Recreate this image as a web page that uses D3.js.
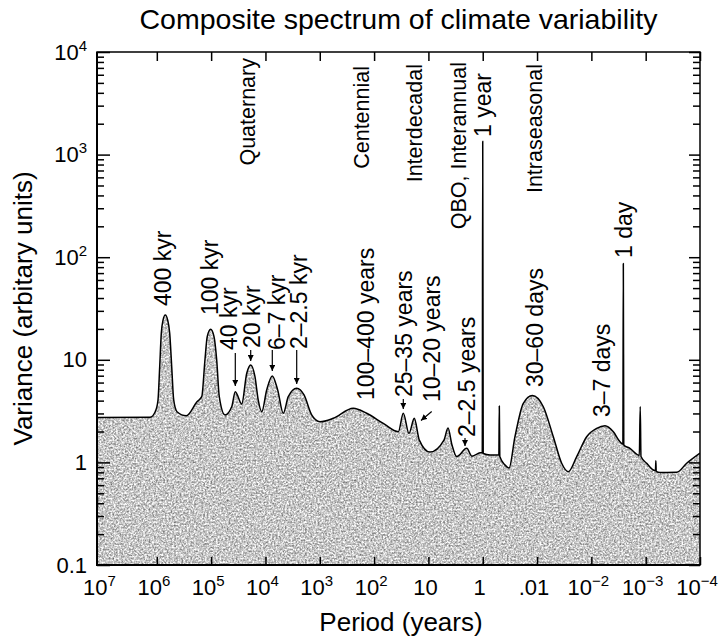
<!DOCTYPE html>
<html>
<head>
<meta charset="utf-8">
<script src="https://cdn.jsdelivr.net/npm/d3@7"></script>
<style>
html, body { margin: 0; padding: 0; background: #fff; }
svg { display: block; font-family: 'Liberation Sans', Arial, Helvetica, sans-serif; }
</style>
</head>
<body>
<svg width="720" height="637"></svg>
<script>
// spectrum: period (years) and variance (arbitrary units)
const period = [1.26e7, 1.34e6, 1.07e6, 9.51e5, 8.85e5, 8.27e5, 7.69e5, 6.98e5, 6.31e5, 5.79e5,
    5.32e5, 4.89e5, 4.25e5, 2.86e5, 1.82e5, 1.49e5, 1.30e5, 1.18e5, 1.02e5, 8.85e4,
    7.90e4, 7.08e4, 5.56e4, 4.18e4, 3.59e4, 2.74e4, 2.21e4, 1.87e4, 1.56e4, 1.36e4,
    1.17e4, 9.49e3, 7.48e3, 5.96e3, 4.70e3, 3.80e3, 2.66e3, 1.95e3, 1.41e3, 991,
    564, 242, 137, 67.8, 35.8, 29.0, 22.8, 18.2, 14.7, 9.35,
    5.17, 4.36, 3.68, 3.01, 1.97, 1.58, 1.12, 1.02, 1.0, 0.98,
    0.734, 0.57, 0.505, 0.495, 0.485, 0.389, 0.328, 0.255, 0.179, 0.122,
    0.0767, 0.0502, 0.0352, 0.0266, 0.0186, 0.0122, 0.00798, 0.00561, 0.00394, 0.00297,
    0.00263, 0.00258, 0.00253, 0.00195, 0.00131, 0.00126, 0.00122, 9.59e-4, 7.24e-4, 6.6e-4,
    6.5e-4, 6.4e-4, 5.46e-4, 2.69e-4, 1.76e-4, 1e-4];
const variance = [2.74, 2.75, 3.12, 4.06, 8.57, 18.1, 24.4, 27.3, 24.4, 18.1,
    8.57, 4.06, 3.12, 2.85, 3.9, 4.37, 9.95, 16.8, 19.8, 16.8,
    9.95, 4.37, 2.90, 3.49, 4.89, 3.71, 7.39, 8.90, 6.84, 4.06,
    3.12, 5.08, 6.95, 5.08, 3.01, 4.37, 5.27, 4.54, 2.90, 2.49,
    2.69, 3.37, 3.01, 2.40, 1.99, 3.01, 1.92, 2.69, 1.65, 1.26,
    1.65, 2.16, 1.48, 1.14, 1.37, 1.15, 1.24, 1.25, 1350, 1.22,
    1.18, 1.18, 1.18, 3.55, 1.14, 0.944, 0.881, 1.78, 3.77, 4.49,
    3.49, 1.78, 0.98, 0.811, 1.14, 1.78, 2.15, 2.28, 1.99, 1.59,
    1.51, 87, 1.48, 1.37, 1.17, 3.5, 1.14, 0.98, 0.843, 0.83,
    1.04, 0.815, 0.798, 0.80, 0.98, 1.23];

const xTickValues = [1e7, 1e6, 1e5, 1e4, 1e3, 1e2, 10, 1, 0.1, 1e-2, 1e-3, 1e-4];
const xTickLabels = ['10^7', '10^6', '10^5', '10^4', '10^3', '10^2', '10', '1', '.01', '10^\u22122', '10^\u22123', '10^\u22124'];
const yTickValues = [0.1, 1, 10, 100, 1000, 10000];
const yTickLabels = ['0.1', '1', '10', '10^2', '10^3', '10^4'];

const peakLabels = ['400 kyr', '100 kyr', '40 kyr', '20 kyr', '6\u20137 kyr', '2\u20132.5 kyr',
    '100\u2013400 years', '25\u201335 years', '10\u201320 years', '2\u20132.5 years',
    '30\u201360 days', '3\u20137 days', '1 day', '1 year'];
const bandLabels = ['Quaternary', 'Centennial', 'Interdecadal', 'QBO, Interannual', 'Intraseasonal'];

// layout
const L = 97, R = 700, T = 52, B = 565;
const peakPos = [[171, 306], [218, 315], [237, 350], [260, 348], [285, 350], [307, 349],
    [374, 400], [412, 397], [440, 402], [475, 437], [543, 387], [610, 417], [632, 258], [491, 137]];
const bandPos = [[255, 58], [369, 66], [422, 64], [466, 62], [542, 64]];
const arrows = [[235.3, 353, 235.3, 386], [250.7, 350, 250.7, 361], [272.3, 350, 272.3, 371],
    [296.7, 350, 296.7, 384], [403.3, 399, 403.3, 409], [431.7, 411.5, 421, 420.5], [465, 438, 465, 446]];

const svg = d3.select('svg');
const x = d3.scaleLog().domain([1e7, 1e-4]).range([102.5, R]);
const y = d3.scaleLog().domain([0.1, 1e4]).range([B, T]);

const defs = svg.append('defs');
const grain = defs.append('filter').attr('id', 'grain')
    .attr('x', 0).attr('y', 0).attr('width', 1).attr('height', 1)
    .attr('color-interpolation-filters', 'sRGB');
grain.append('feTurbulence').attr('type', 'fractalNoise').attr('baseFrequency', 0.55)
    .attr('numOctaves', 3).attr('seed', 5).attr('result', 'noise');
grain.append('feColorMatrix').attr('in', 'noise').attr('type', 'matrix')
    .attr('values', '0.9 0 0 0 0.33  0.9 0 0 0 0.33  0.9 0 0 0 0.33  0 0 0 0 1').attr('result', 'grey');
grain.append('feComposite').attr('in', 'grey').attr('in2', 'SourceGraphic').attr('operator', 'in');

defs.append('marker').attr('id', 'head').attr('viewBox', '0 0 10 10')
    .attr('refX', 10).attr('refY', 5).attr('markerWidth', 6).attr('markerHeight', 6)
    .attr('markerUnits', 'userSpaceOnUse').attr('orient', 'auto')
    .append('path').attr('d', 'M0,0L10,5L0,10Z').attr('fill', '#000');

defs.append('clipPath').attr('id', 'plot').append('rect')
    .attr('x', L).attr('y', T).attr('width', R - L).attr('height', B - T);

const pts = period.map((p, i) => [p, variance[i]]);

const area = d3.area()
    .x(d => x(d[0])).y0(B).y1(d => y(d[1]))
    .curve(d3.curveMonotoneX);
const line = d3.line()
    .x(d => x(d[0])).y(d => y(d[1]))
    .curve(d3.curveMonotoneX);

const plot = svg.append('g').attr('clip-path', 'url(#plot)');
plot.append('path').datum(pts).attr('d', area)
    .attr('fill', '#000').attr('filter', 'url(#grain)');
plot.append('path').datum(pts).attr('d', line)
    .attr('fill', 'none').attr('stroke', '#000').attr('stroke-width', 1.5)
    .attr('stroke-linejoin', 'round');

// axes, ticks pointing inward
const yMinor = [];
yTickValues.slice(0, -1).forEach(v => { for (let k = 2; k <= 9; k++) yMinor.push(v * k); });

function clean(g) { g.select('.domain').remove(); g.selectAll('line').attr('stroke', '#000').attr('stroke-width', 1.5); }
svg.append('g').attr('transform', `translate(0,${B})`)
    .call(d3.axisBottom(x).tickValues(xTickValues.slice(1)).tickSize(-8).tickFormat('')).call(clean);
svg.append('g').attr('transform', `translate(0,${T})`)
    .call(d3.axisTop(x).tickValues(xTickValues.slice(1)).tickSize(-9).tickFormat('')).call(clean);
svg.append('g').attr('transform', `translate(${L},0)`)
    .call(d3.axisLeft(y).tickValues(yTickValues).tickSize(-13).tickFormat('')).call(clean);
svg.append('g').attr('transform', `translate(${L},0)`)
    .call(d3.axisLeft(y).tickValues(yMinor).tickSize(-7).tickFormat('')).call(clean);
svg.append('g').attr('transform', `translate(${R},0)`)
    .call(d3.axisRight(y).tickValues(yTickValues).tickSize(-11).tickFormat('')).call(clean);
svg.append('g').attr('transform', `translate(${R},0)`)
    .call(d3.axisRight(y).tickValues(yMinor).tickSize(-7).tickFormat('')).call(clean);

svg.append('rect').attr('x', L).attr('y', T).attr('width', R - L).attr('height', B - T)
    .attr('fill', 'none').attr('stroke', '#000').attr('stroke-width', 1.5);
svg.append('path').attr('d', `M${L},${T}V${B}H${R}`)
    .attr('fill', 'none').attr('stroke', '#000').attr('stroke-width', 2);

function supText(sel, lab, size) {
    const [base, exp] = lab.split('^');
    sel.append('tspan').text(base);
    if (exp) sel.append('tspan').attr('font-size', Math.round(size * 0.68)).attr('dy', -size * 0.4).text(exp);
}

xTickLabels.forEach((lab, i) => {
    const t = svg.append('text').attr('x', x(xTickValues[i]) - 3).attr('y', 595)
        .attr('text-anchor', 'middle').attr('font-size', 22).attr('fill', '#000');
    supText(t, lab, 22);
});
yTickLabels.forEach((lab, i) => {
    const t = svg.append('text').attr('x', 87).attr('y', y(yTickValues[i]) + 7.5)
        .attr('text-anchor', 'end').attr('font-size', 22).attr('fill', '#000');
    supText(t, lab, 22);
});

svg.append('text').attr('x', (L + R) / 2).attr('y', 29).attr('text-anchor', 'middle')
    .attr('font-size', 28.5).text('Composite spectrum of climate variability');
svg.append('text').attr('x', 401).attr('y', 631).attr('text-anchor', 'middle')
    .attr('font-size', 26).text('Period (years)');
svg.append('text').attr('transform', `translate(32,${(T + B) / 2}) rotate(-90)`)
    .attr('text-anchor', 'middle').attr('font-size', 26).text('Variance (arbitary units)');

peakLabels.forEach((lab, i) => {
    svg.append('text').attr('transform', `translate(${peakPos[i][0]},${peakPos[i][1]}) rotate(-90)`)
        .attr('font-size', 23).text(lab);
});
bandLabels.forEach((lab, i) => {
    svg.append('text').attr('transform', `translate(${bandPos[i][0]},${bandPos[i][1]}) rotate(-90)`)
        .attr('text-anchor', 'end').attr('font-size', 21.5).text(lab);
});
arrows.forEach(a => {
    svg.append('line').attr('x1', a[0]).attr('y1', a[1]).attr('x2', a[2]).attr('y2', a[3])
        .attr('stroke', '#000').attr('stroke-width', 1.2).attr('marker-end', 'url(#head)');
});
</script>
</body>
</html>
